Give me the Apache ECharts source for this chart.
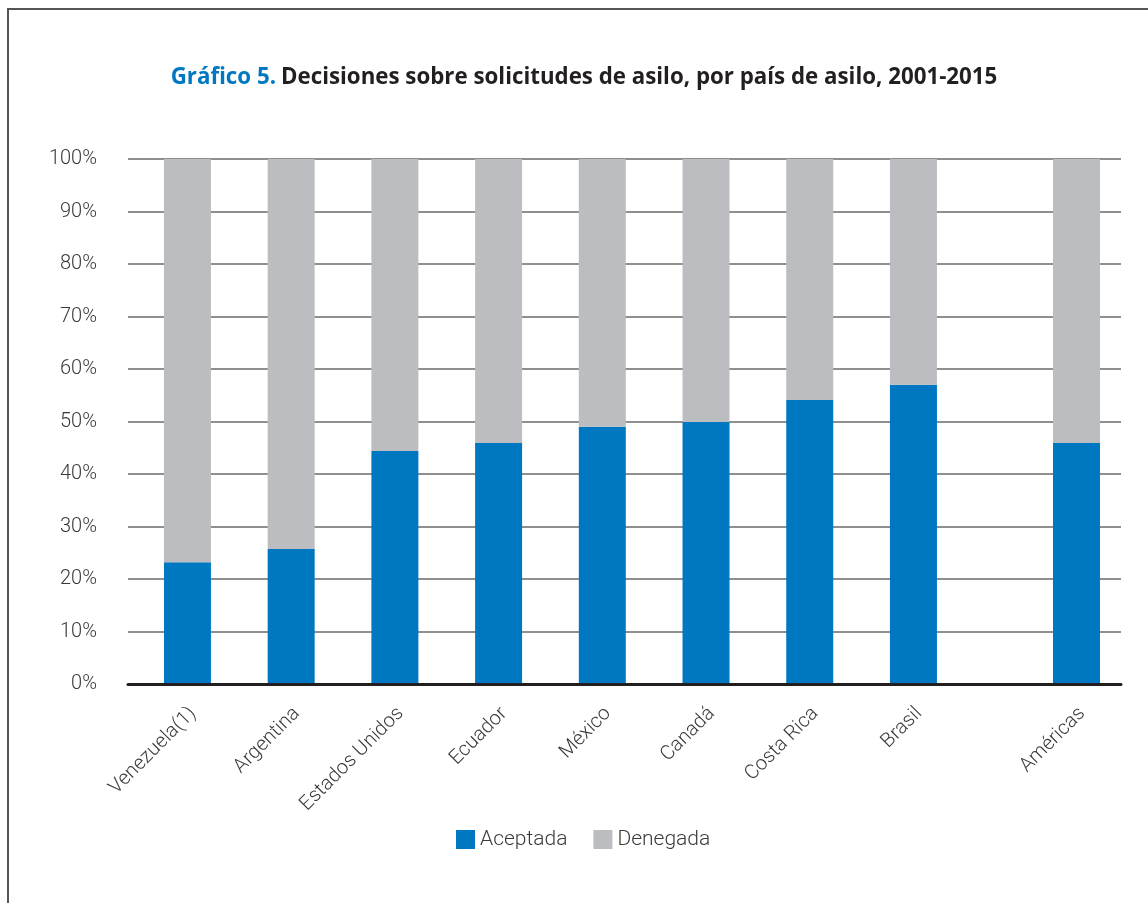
<!DOCTYPE html>
<html>
<head>
<meta charset="utf-8">
<script src="https://cdn.jsdelivr.net/npm/echarts@6/dist/echarts.min.js"></script>
<style>
html,body{margin:0;padding:0;background:#fff;}
#frame{position:absolute;left:7px;top:8px;width:1300px;height:1100px;border-left:2px solid #555;border-top:2px solid #555;}
#chart{position:absolute;left:0;top:0;width:1148px;height:903px;}
</style>
</head>
<body>
<div id="frame"></div>
<div id="chart"></div>
<script>
// Data (percent of decisions)
const countries = ['Venezuela(1)', 'Argentina', 'Estados Unidos', 'Ecuador', 'México', 'Canadá', 'Costa Rica', 'Brasil'];
const aceptada = [23.2, 25.7, 44.4, 45.9, 49.0, 49.9, 54.1, 57.0];
const denegada = [76.8, 74.3, 55.6, 54.1, 51.0, 50.1, 45.9, 43.0];
const totalCategory = ['Américas'];
const totalAceptada = [45.9];
const totalDenegada = [54.1];
const yMin = 0, yMax = 100, yStep = 10;

const BLUE = '#0078c1', GREY = '#bcbdc0', TXT = '#3a3a3a';
const FONT = 'Roboto';

const chart = echarts.init(document.getElementById('chart'));
const gTop = 159, gBottom = 903 - 684;
const lbl = {fontFamily: FONT, fontSize: 20, fontWeight: 300, color: TXT};
const xLbl = Object.assign({rotate: 45, margin: 21, interval: 0, verticalAlign: 'top', lineHeight: 16}, lbl);

chart.setOption({
  animation: false,
  title: {
    text: '{a|Gráfico 5.} {b|Decisiones sobre solicitudes de asilo, por país de asilo, 2001-2015}',
    left: 579, top: 62, textAlign: 'center',
    textStyle: {
      rich: {
        a: {fontFamily: 'Open Sans', fontSize: 22.3, fontWeight: 'bold', color: '#0078c1'},
        b: {fontFamily: 'Open Sans', fontSize: 22.3, fontWeight: 'bold', color: '#231f20'}
      }
    }
  },
  legend: {
    left: 451, top: 824,
    itemWidth: 19, itemHeight: 19, itemGap: 26, icon: 'rect',
    textStyle: {fontFamily: FONT, fontSize: 21, fontWeight: 300, color: TXT, padding: [0, 0, 0, 0]},
    data: ['Aceptada', 'Denegada']
  },
  grid: [
    {left: 128, right: 1148 - 1121, top: gTop, bottom: gBottom},
    {left: 135.6, width: 829.7, top: gTop, bottom: gBottom},
    {left: 1024.65, width: 103.7, top: gTop, bottom: gBottom}
  ],
  xAxis: [
    {gridIndex: 0, type: 'category', data: [''], z: 10,
     axisLine: {lineStyle: {color: '#231f20', width: 3}}, axisTick: {show: false}, axisLabel: {show: false}},
    {gridIndex: 1, type: 'category', data: countries,
     axisLine: {show: false}, axisTick: {show: false}, axisLabel: xLbl},
    {gridIndex: 2, type: 'category', data: totalCategory,
     axisLine: {show: false}, axisTick: {show: false}, axisLabel: xLbl}
  ],
  yAxis: [
    {gridIndex: 0, type: 'value', min: yMin, max: yMax, interval: yStep,
     axisLine: {show: false}, axisTick: {show: false},
     axisLabel: Object.assign({formatter: '{value}%', margin: 31}, lbl),
     splitLine: {lineStyle: {color: '#6a6a6a', width: 1.5}}},
    {gridIndex: 1, type: 'value', min: yMin, max: yMax, interval: yStep, show: false},
    {gridIndex: 2, type: 'value', min: yMin, max: yMax, interval: yStep, show: false}
  ],
  series: [
    {name: 'Aceptada', type: 'bar', stack: 'a', xAxisIndex: 1, yAxisIndex: 1, barWidth: 47,
     itemStyle: {color: BLUE}, data: aceptada},
    {name: 'Denegada', type: 'bar', stack: 'a', xAxisIndex: 1, yAxisIndex: 1, barWidth: 47,
     itemStyle: {color: GREY}, data: denegada},
    {name: 'Aceptada', type: 'bar', stack: 'b', xAxisIndex: 2, yAxisIndex: 2, barWidth: 47,
     itemStyle: {color: BLUE}, data: totalAceptada},
    {name: 'Denegada', type: 'bar', stack: 'b', xAxisIndex: 2, yAxisIndex: 2, barWidth: 47,
     itemStyle: {color: GREY}, data: totalDenegada}
  ]
});
</script>
</body>
</html>
